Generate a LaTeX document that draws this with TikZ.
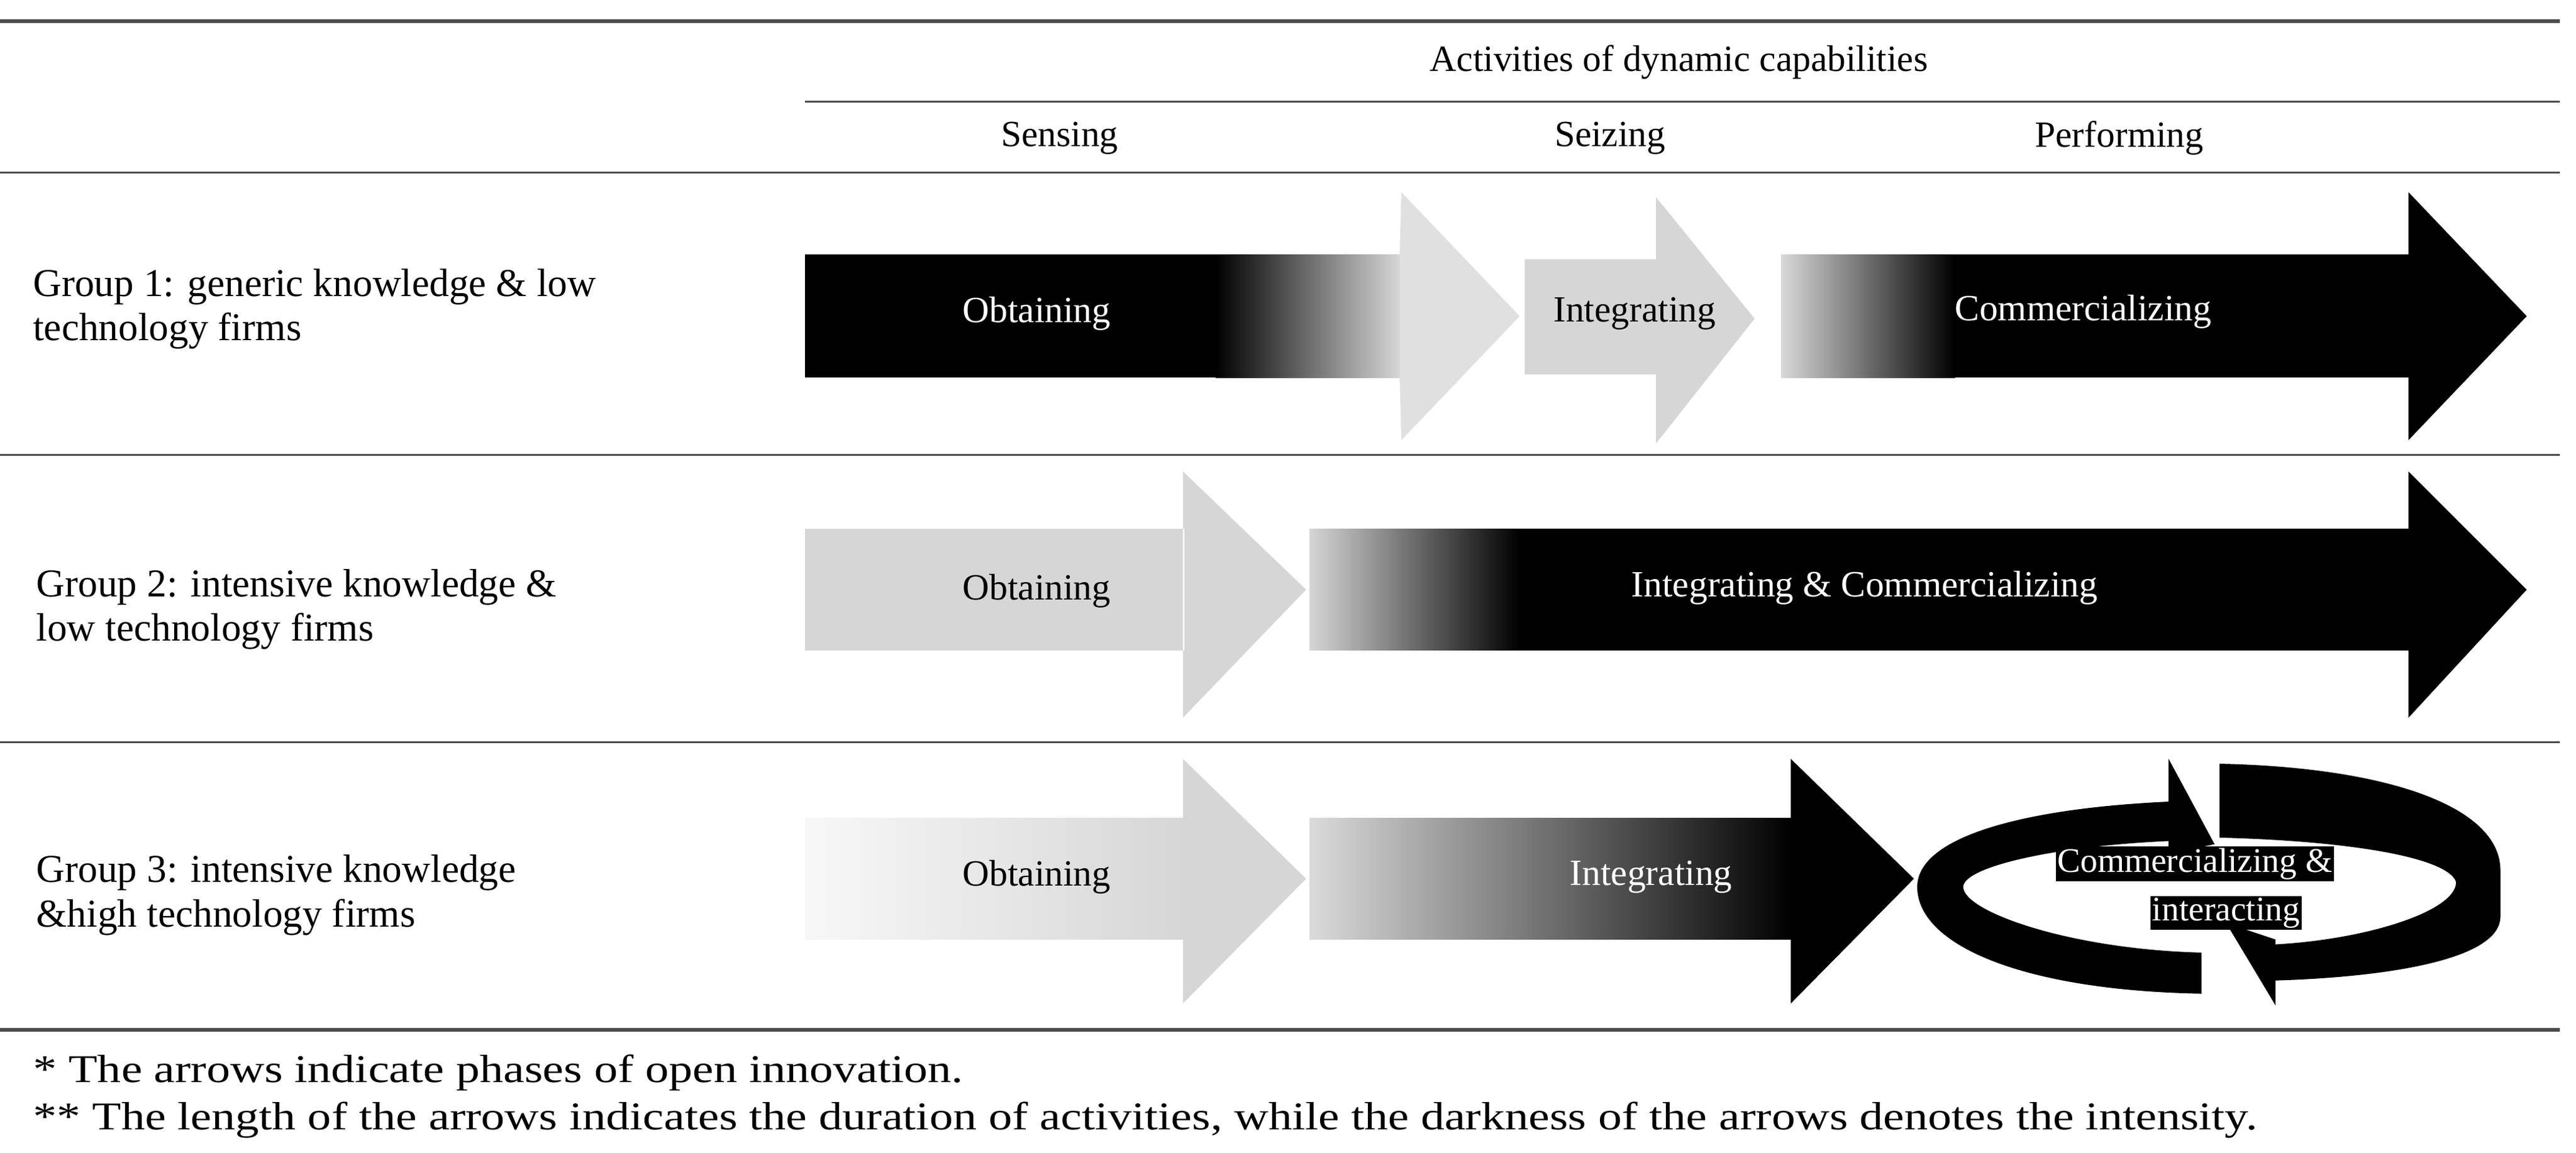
\documentclass[tikz,border=0pt]{standalone}
\usepackage{fontspec}
\setmainfont{Liberation Serif}
\begin{document}
\begin{tikzpicture}[x=1pt,y=-1pt,
  lg/.style={fill=black!16},
  lbl/.style={font=\fontsize{22.5}{26}\selectfont,inner sep=0pt},
  grp/.style={font=\fontsize{24}{27}\selectfont,align=left,anchor=west,inner sep=0pt},
  fn/.style={font=\fontsize{24}{26}\selectfont,anchor=west,inner sep=0pt,xscale=1.2,transform shape},
  rule/.style={draw=black!70,line width=1.2pt}]
\useasboundingbox (0,0) rectangle (1568,702);
% rules
\draw[rule,line width=2.2pt] (0,13) -- (1558,13);
\draw[rule] (490,62) -- (1558,62);
\draw[rule] (0,105) -- (1558,105);
\draw[rule] (0,277) -- (1558,277);
\draw[rule] (0,452) -- (1558,452);
\draw[rule,line width=2.2pt] (0,627) -- (1558,627);
% headers
\node[lbl] (act) at (1022,38) {Activities of dynamic capabilities};
\node[lbl] (sen) at (645,84) {Sensing};
\node[lbl] (sei) at (980,84) {Seizing};
\node[lbl] (per) at (1290,84) {Performing};
\node[grp] (g1) at (20,188) {Group 1: generic knowledge \& low\\technology firms};
\node[grp] (g2) at (22,371) {Group 2: intensive knowledge \&\\low technology firms};
\node[grp] (g3) at (22,545) {Group 3: intensive knowledge\\\&high technology firms};
% Row 1
\fill[black] (490,155) rectangle (742,230);
\shade[left color=black,right color=black!15] (740,155) rectangle (853,230);
\fill[black!12] (852,155) -- (853,117) -- (925,192.5) -- (853,268) -- (852,230) -- cycle;
\node[lbl,text=white] (o1) at (631,191) {Obtaining};
\fill[lg] (928,158) rectangle (1009,228);
\fill[lg] (1008,120) -- (1068,194) -- (1008,270) -- cycle;
\node[lbl] (i1) at (995,191) {Integrating};
\shade[left color=black!15,right color=black] (1084,155) rectangle (1190,230);
\fill[black] (1189,155) rectangle (1467,230);
\fill[black] (1466,117) -- (1538,192.5) -- (1466,268) -- cycle;
\node[lbl,text=white] (c1) at (1268,190) {Commercializing};
% Row 2
\fill[lg] (490,322) rectangle (721,396) (720,287) -- (795,359) -- (720,437) -- cycle;
\node[lbl] (o2) at (631,360) {Obtaining};
\shade[left color=black!16,right color=black] (797,322) rectangle (925,396);
\fill[black] (924,322) rectangle (1467,396);
\fill[black] (1466,287) -- (1538,359) -- (1466,437) -- cycle;
\node[lbl,text=white] (ic2) at (1135,358) {Integrating \& Commercializing};
% Row 3
\shade[left color=black!3,right color=black!16] (490,498) rectangle (721,572);
\fill[lg] (720,462) -- (795,535) -- (720,611) -- cycle;
\node[lbl] (o3) at (631,534) {Obtaining};
\shade[left color=black!14,right color=black] (797,498) rectangle (1091,572);
\fill[black] (1090,462) -- (1165,535) -- (1090,611) -- cycle;
\node[lbl,text=white] (i3) at (1005,534) {Integrating};
% cycle: left C
\fill[black] (1340,605) .. controls (1230,603) and (1167,575) .. (1167,540)
  .. controls (1167,510) and (1230,492) .. (1322,488) -- (1322,512)
  .. controls (1250,515) and (1195,528) .. (1195,540)
  .. controls (1195,555) and (1260,578) .. (1340,580) -- cycle;
\fill[black] (1320,462) -- (1348,514) -- (1320,520) -- cycle;
% right C
\fill[black] (1351,465) .. controls (1450,467) and (1522,490) .. (1522,530) -- (1522,558)
  .. controls (1522,585) and (1450,595) .. (1385,597) -- (1385,575)
  .. controls (1440,572) and (1495,555) .. (1495,537)
  .. controls (1490,522) and (1430,512) .. (1351,510) -- cycle;
\fill[black] (1385,612) -- (1355,562) -- (1385,572) -- cycle;
\node[lbl,text=white,fill=black,inner sep=1pt,font=\fontsize{21}{24}\selectfont] (c3) at (1336,526) {Commercializing \&};
\node[lbl,text=white,fill=black,inner sep=1pt,font=\fontsize{21}{24}\selectfont] (c3b) at (1355,556) {interacting};
% footnotes
\node[fn] (f1) at (20,653) {* The arrows indicate phases of open innovation.};
\node[fn] (f2) at (20,682) {** The length of the arrows indicates the duration of activities, while the darkness of the arrows denotes the intensity.};
\end{tikzpicture}
\end{document}
